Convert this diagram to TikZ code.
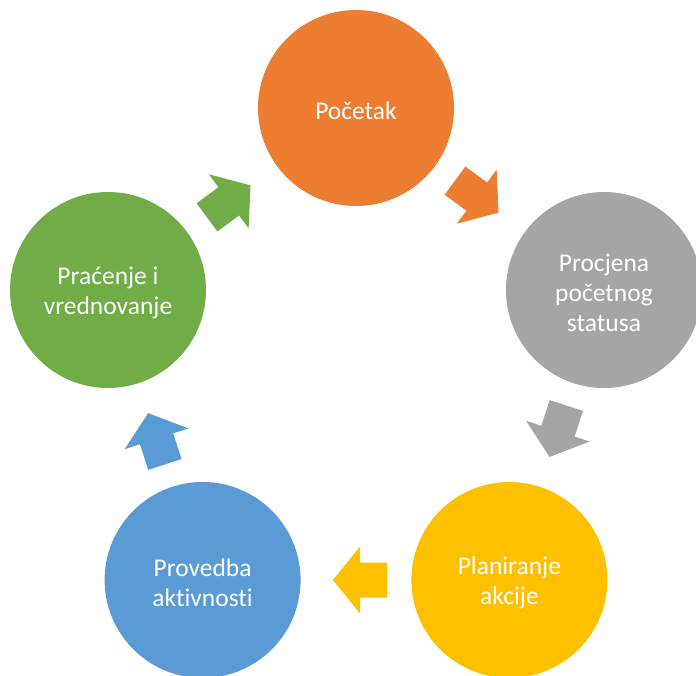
\documentclass[tikz,border=0pt]{standalone}
\usepackage{fontspec}
\setmainfont{Carlito}[Ligatures=NoCommon]
\usetikzlibrary{calc}
\definecolor{corange}{HTML}{ED7D31}
\definecolor{cgray}{HTML}{A5A5A5}
\definecolor{cyellow}{HTML}{FFC000}
\definecolor{cblue}{HTML}{5B9BD5}
\definecolor{cgreen}{HTML}{70AD47}
\begin{document}
\begin{tikzpicture}[x=1pt,y=1pt,
  stage/.style={circle, minimum size=196pt, inner sep=0pt},
  stagetext/.style={text=white, inner sep=0pt, yshift=-3pt,
    font=\fontsize{25.5}{30}\selectfont, align=center},
  blockarrow/.pic={\fill[#1] (-31,-17.5) -- (-4,-17.5) -- (-4,-33.5) -- (23,0)
    -- (-4,33.5) -- (-4,17.5) -- (-31,17.5) -- cycle;}
]
\useasboundingbox (0,0) rectangle (696,675);
\node[stage, fill=corange, label={[stagetext]center:Početak}] (a) at (356,567) {};
\node[stage, fill=cgray, label={[stagetext]center:{Procjena\\početnog\\statusa}}] (b) at (604,385) {};
\node[stage, fill=cyellow, label={[stagetext]center:{Planiranje\\akcije}}] (c) at (509.4,95) {};
\node[stage, fill=cblue, label={[stagetext]center:{Provedba\\aktivnosti}}] (d) at (202.6,95) {};
\node[stage, fill=cgreen, label={[stagetext]center:{Praćenje i\\vrednovanje}}] (e) at (108,385) {};
\foreach \s/\t/\c in {a/b/corange, b/c/cgray, c/d/cyellow, d/e/cblue, e/a/cgreen}{
  \path let \p1=($(\t)-(\s)$), \n1={atan2(\y1,\x1)} in
    ($(\s)!0.5!(\t)$) pic[rotate=\n1] {blockarrow=\c};
}
\end{tikzpicture}
\end{document}
